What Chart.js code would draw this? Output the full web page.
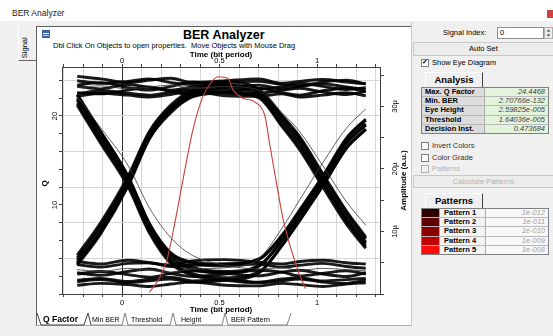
<!DOCTYPE html>
<html>
<head>
<meta charset="utf-8">
<title>BER Analyzer</title>
<script src="https://cdn.jsdelivr.net/npm/chart.js@4.4.1/dist/chart.umd.min.js"></script>
<style>
  body { margin:0; width:553px; height:336px; background:#f0f0f0; overflow:hidden; position:relative;
         font-family:"Liberation Sans", Arial, sans-serif; color:#000; }
  .a { position:absolute; white-space:nowrap; line-height:1; }
  #topbar { left:0; top:0; width:553px; height:21px; background:#fff; }
  #panel { left:36px; top:26px; width:374px; height:298px; background:#fff;
           border-left:1px solid #606060; border-top:1px solid #606060; border-right:1px solid #b0b0b0; border-bottom:1px solid #b0b0b0; }
  #eye { position:absolute; left:37px; top:50px; }
  .ui { font-size:7.5px; }
  .chk { position:absolute; width:6px; height:6px; border:1px solid #808080; background:#fff; }
  .chk.off { background:#f0f0f0; border-color:#b0b0b0; }
  .btn { position:absolute; background:#ececec; border:1px solid #c8c8c8; font-size:7.5px; text-align:center; }
  .tab { position:absolute; font-weight:bold; font-size:9.5px; text-align:center;
         border-left:1px solid #fff; border-top:1px solid #fff; border-right:1px solid #404040; }
  .grid { position:absolute; border:1px solid #808080; background:#fff; }
  .row { display:flex; height:8.2px; border-bottom:1px solid #b8b8b8; font-size:7.5px; line-height:8.2px; }
  .row:last-child { border-bottom:none; }
  .k { width:59px; background:#dcdcdc; font-weight:bold; padding-left:3px; border-right:1px solid #a8a8a8; }
  .v { flex:1; background:#e3f3dc; font-style:italic; text-align:right; padding-right:3px; color:#404040; }
  .sw { width:17px; border-right:1px solid #a8a8a8; }
  .pn { width:41px; background:#f4f4f4; font-weight:bold; padding-left:4px; border-right:1px solid #a8a8a8; }
  .pv { flex:1; background:#f8f8f8; font-style:italic; text-align:right; padding-right:3px; color:#a0a0a0; }
  .bt { font-size:7px; }
</style>
</head>
<body>

<div id="topbar" class="a"></div>
<div class="a" style="left:12px;top:9px;font-size:8.5px;color:#222;">BER Analyzer</div>
<div class="a" style="left:547px;top:10px;width:6px;height:8px;background:#d84040;"></div>

<!-- left vertical tab -->
<div class="a" style="left:18px;top:27px;width:17px;height:33px;border-left:1px solid #fff;border-bottom:1px solid #606060;"></div>
<div class="a" style="left:14px;top:44px;font-size:7.5px;transform:rotate(-90deg);">Signal</div>

<div id="panel" class="a"></div>
<div class="a" style="left:42px;top:30px;width:8px;height:8px;background:#3a62a8;"></div>
<div class="a" style="left:43px;top:33px;width:6px;height:1px;background:#fff;"></div>
<div class="a" style="left:43px;top:35px;width:6px;height:1px;background:#cfd8ea;"></div>

<div class="a" style="left:183px;top:29px;font-size:12.5px;font-weight:bold;">BER Analyzer</div>
<div class="a" style="left:53px;top:42px;font-size:7.5px;">Dbl Click On Objects to open properties.&nbsp; Move Objects with Mouse Drag</div>

<canvas id="eye" width="374" height="266"></canvas>

<!-- bottom tabs -->
<svg class="a" style="left:34px;top:311px;" width="265" height="16">
  <polyline fill="none" stroke="#404040" stroke-width="1" points="3,2 7,14 50,14 54,2 57,14"/>
  <polyline fill="none" stroke="#808080" stroke-width="1" points="57,14 88,14 91,2 94,14 136,14 139,2 142,14 188,14 191,2 194,14 253,14 257,2"/>
</svg>
<div class="a" style="left:43px;top:315px;font-size:8.5px;font-weight:bold;">Q Factor</div>
<div class="a bt" style="left:92px;top:316px;">Min BER</div>
<div class="a bt" style="left:131px;top:316px;">Threshold</div>
<div class="a bt" style="left:181px;top:316px;">Height</div>
<div class="a bt" style="left:231px;top:316px;">BER Pattern</div>

<!-- right panel -->
<div class="a" style="left:411px;top:22px;width:1px;height:304px;background:#c8c8c8;"></div>
<div class="a ui" style="left:443px;top:29px;">Signal Index:</div>
<div class="a" style="left:497px;top:27px;width:45px;height:10px;background:#fff;border:1px solid #909090;"></div>
<div class="a ui" style="left:500px;top:29px;">0</div>
<svg class="a" style="left:544px;top:27px;" width="9" height="12">
  <rect x="0.5" y="0.5" width="8" height="11" fill="#ececec" stroke="#b0b0b0"/>
  <path d="M2.5 4.5 L4.5 2.5 L6.5 4.5 Z M2.5 7.5 L4.5 9.5 L6.5 7.5 Z" fill="#404040"/>
</svg>
<div class="btn" style="left:413px;top:42px;width:139px;height:12px;line-height:12px;">Auto Set</div>

<div class="chk" style="left:421px;top:59px;"></div>
<div class="a" style="left:422px;top:58px;font-size:7px;font-weight:bold;">&#10003;</div>
<div class="a ui" style="left:432px;top:59px;">Show Eye Diagram</div>

<div class="tab" style="left:425px;top:72px;width:56px;height:14px;line-height:14px;">Analysis</div>
<div class="grid" style="left:421px;top:87px;width:126px;">
  <div class="row"><span class="k">Max. Q Factor</span><span class="v">24.4468</span></div>
  <div class="row"><span class="k">Min. BER</span><span class="v">2.70766e-132</span></div>
  <div class="row"><span class="k">Eye Height</span><span class="v">2.59825e-005</span></div>
  <div class="row"><span class="k">Threshold</span><span class="v">1.64036e-005</span></div>
  <div class="row"><span class="k">Decision Inst.</span><span class="v">0.473684</span></div>
</div>

<div class="chk" style="left:421px;top:142px;"></div>
<div class="a ui" style="left:432px;top:142px;color:#333;">Invert Colors</div>
<div class="chk" style="left:421px;top:154px;"></div>
<div class="a ui" style="left:432px;top:154px;color:#333;">Color Grade</div>
<div class="chk off" style="left:421px;top:165px;"></div>
<div class="a ui" style="left:432px;top:165px;color:#b0b0b0;">Patterns</div>
<div class="btn" style="left:413px;top:175px;width:139px;height:11px;line-height:11px;color:#b4b4b4;">Calculate Patterns</div>

<div class="tab" style="left:425px;top:193px;width:56px;height:14px;line-height:14px;">Patterns</div>
<div class="grid" style="left:421px;top:208px;width:126px;">
  <div class="row"><span class="sw" style="background:#2e0000;"></span><span class="pn">Pattern 1</span><span class="pv">1e-012</span></div>
  <div class="row"><span class="sw" style="background:#5c0000;"></span><span class="pn">Pattern 2</span><span class="pv">1e-011</span></div>
  <div class="row"><span class="sw" style="background:#8c0000;"></span><span class="pn">Pattern 3</span><span class="pv">1e-010</span></div>
  <div class="row"><span class="sw" style="background:#c20000;"></span><span class="pn">Pattern 4</span><span class="pv">1e-009</span></div>
  <div class="row"><span class="sw" style="background:#ff0a0a;"></span><span class="pn">Pattern 5</span><span class="pv">1e-008</span></div>
</div>

<script>
// time samples (bit periods) shared by all eye traces
const sampleTimes = [-0.23, -0.11, 0.03, 0.14, 0.25, 0.36, 0.53, 0.70, 0.82, 0.91, 1.03, 1.15, 1.25];

// eye traces, amplitude in micro a.u.
// 111 / 000
const hi1 = [33.4, 33.8, 33.0, 32.6, 33.2, 33.9, 33.5, 32.8, 33.1, 33.7, 33.2, 32.7, 33.0];
const hi2 = [32.2, 32.0, 32.6, 33.1, 32.4, 31.9, 32.3, 32.9, 32.2, 31.8, 32.5, 32.9, 32.4];
const hi3 = [34.8, 34.4, 33.8, 34.2, 34.5, 33.8, 34.1, 34.4, 33.7, 34.0, 34.3, 33.9, 33.6];
const hi4 = [31.6, 32.1, 31.8, 31.5, 31.9, 32.4, 31.7, 31.6, 32.0, 31.5, 31.8, 32.2, 31.7];
const lo1 = [3.4, 3.0, 3.6, 4.0, 3.3, 2.8, 3.2, 3.8, 3.5, 2.9, 3.3, 3.7, 3.2];
const lo2 = [2.2, 2.5, 2.0, 2.4, 2.7, 2.1, 2.3, 1.9, 2.4, 2.6, 2.1, 2.3, 2.5];
const lo3 = [5.2, 4.8, 5.4, 5.0, 4.6, 5.3, 5.5, 5.1, 4.8, 5.2, 5.4, 5.0, 4.8];
const lo4 = [1.4, 1.7, 1.5, 1.2, 1.6, 1.9, 1.4, 1.3, 1.7, 1.5, 1.2, 1.6, 1.8];
// 011
const r1 = [5.4, 10.5, 18.0, 25.4, 29.6, 32.0, 33.0, 33.4, 32.8, 33.2, 33.6, 33.1, 32.7];
const r2 = [4.6, 9.6, 17.2, 24.8, 29.2, 31.6, 32.4, 32.1, 32.6, 32.9, 32.3, 31.9, 32.4];
const r3 = [6.2, 11.4, 18.8, 26.0, 30.2, 32.6, 33.8, 34.0, 33.5, 33.3, 33.9, 34.2, 33.6];
// 010
const rf1 = [5.0, 10.0, 17.6, 25.1, 29.4, 31.8, 32.8, 32.0, 27.5, 24.0, 18.0, 12.0, 8.0];
const rf2 = [5.8, 11.0, 18.4, 25.8, 29.9, 32.3, 33.3, 32.5, 28.3, 24.9, 19.0, 13.0, 8.8];
const rf3 = [4.8, 9.9, 17.4, 24.9, 29.0, 31.5, 32.2, 31.4, 26.8, 23.1, 17.1, 11.2, 7.3];
// 110
const f1 = [33.2, 32.8, 33.5, 33.0, 32.6, 33.1, 33.4, 32.3, 27.9, 24.4, 18.4, 12.4, 8.3];
const f2 = [32.0, 32.5, 32.1, 31.8, 32.3, 32.7, 32.1, 31.6, 27.0, 23.5, 17.6, 11.6, 7.6];
const f3 = [34.1, 33.7, 34.0, 34.4, 33.8, 33.5, 33.9, 32.8, 28.6, 25.2, 19.2, 13.3, 9.1];
// 100
const d1 = [31.0, 25.0, 18.0, 10.5, 5.6, 3.9, 3.3, 2.9, 3.5, 3.8, 3.2, 2.8, 3.4];
const d2 = [31.8, 25.9, 18.8, 11.2, 6.4, 4.9, 4.5, 4.8, 4.3, 4.6, 4.9, 4.4, 4.1];
const d3 = [30.2, 24.1, 17.2, 9.8, 4.9, 3.0, 2.2, 1.8, 2.1, 2.4, 1.9, 1.7, 2.2];
// 101
const dr1 = [31.3, 25.4, 18.3, 10.8, 6.0, 4.3, 3.6, 4.5, 8.6, 12.6, 18.2, 24.2, 27.2];
const dr2 = [30.5, 24.5, 17.6, 10.1, 5.2, 3.3, 2.6, 3.5, 7.7, 11.7, 17.3, 23.3, 26.3];
const dr3 = [31.9, 26.0, 18.9, 11.3, 6.6, 5.1, 4.8, 5.6, 9.4, 13.4, 18.9, 24.9, 28.0];
// 001
const u1 = [3.2, 3.6, 3.1, 2.7, 3.3, 3.7, 3.4, 4.4, 8.5, 12.5, 18.0, 24.0, 27.0];
const u2 = [4.7, 4.3, 4.9, 5.0, 4.4, 4.6, 4.8, 5.5, 9.2, 13.2, 18.7, 24.7, 27.8];
const u3 = [2.0, 2.3, 1.8, 2.1, 2.4, 1.9, 2.2, 3.3, 7.8, 11.8, 17.3, 23.3, 26.4];
// odd slow / fast edges
const out1 = [31.6, 26.6, 20.6, 13.8, 9.0, 6.2, 4.6, 4.0, 4.2, 3.8, 4.1, 3.9, 3.7];
const out2 = [33.0, 33.3, 32.8, 33.1, 33.4, 32.9, 33.2, 32.6, 29.0, 26.0, 20.5, 14.8, 11.0];
const out3 = [3.9, 3.6, 4.1, 3.8, 3.5, 4.0, 4.2, 5.6, 10.5, 15.0, 21.0, 26.5, 29.6];

// Q factor vs decision time
const qTimes  = [0.14, 0.19, 0.231, 0.27, 0.313, 0.364, 0.415, 0.462, 0.492, 0.544, 0.57, 0.62, 0.67, 0.708, 0.733, 0.759, 0.795, 0.826, 0.862, 0.90, 0.94];
const qValues = [0.2, 1.7, 3.9, 7.9, 12.9, 18.5, 22.2, 23.9, 24.4, 24.2, 22.9, 22.0, 21.7, 21.1, 20.0, 16.6, 12.1, 8.4, 5.4, 2.8, 0.6];

// axis ticks
const timeTicks = [-0.3, -0.2, -0.1, 0, 0.1, 0.2, 0.3, 0.4, 0.5, 0.6, 0.7, 0.8, 0.9, 1, 1.1, 1.2, 1.3];
const timeLabels = [0, 0.5, 1];
const qTicks = [0, 2, 4, 6, 8, 10, 12, 14, 16, 18, 20, 22, 24];
const qLabels = [10, 20];
const ampTicks = [0, 5, 10, 15, 20, 25, 30, 35];
const ampLabels = [10, 20, 30];

const eyeTraces = [hi1, hi2, hi3, hi4, lo1, lo2, lo3, lo4, r1, r2, r3, rf1, rf2, rf3,
                   f1, f2, f3, d1, d2, d3, dr1, dr2, dr3, u1, u2, u3];
const oddTraces = [out1, out2, out3];

const FONT = '"Liberation Sans", Arial, sans-serif';
const AXIS = '#404040';

const datasets = [];
datasets.push({
    data: qTimes.map((t, i) => ({ x: t, y: qValues[i] })),
    xAxisID: 'x', yAxisID: 'q',
    borderColor: '#c8403c', borderWidth: 1.1
});
oddTraces.forEach(v => datasets.push({
    data: sampleTimes.map((t, i) => ({ x: t, y: v[i] })),
    xAxisID: 'x', yAxisID: 'amp',
    borderColor: 'rgba(60,60,60,0.9)', borderWidth: 0.9
}));
eyeTraces.forEach(v => datasets.push({
    data: sampleTimes.map((t, i) => ({ x: t, y: v[i] })),
    xAxisID: 'x', yAxisID: 'amp',
    borderColor: 'rgba(0,0,0,0.9)', borderWidth: 2.9
}));

// rotated labels for the two vertical axes
const yLabelPlugin = {
    id: 'yLabels',
    afterDraw(chart) {
        const c = chart.ctx;
        const q = chart.scales.q, amp = chart.scales.amp;
        const rot = (txt, x, y) => {
            c.save();
            c.translate(x, y);
            c.rotate(-Math.PI / 2);
            c.fillText(txt, 0, 0);
            c.restore();
        };
        c.save();
        c.fillStyle = '#000';
        c.textAlign = 'center';
        c.textBaseline = 'middle';
        c.font = '7.5px ' + FONT;
        qLabels.forEach(v => rot(String(v), 18, q.getPixelForValue(v)));
        ampLabels.forEach(v => rot(v + '\u00b5', amp.left + 15, amp.getPixelForValue(v)));
        c.font = 'bold 8px ' + FONT;
        rot('Q', 8, (chart.chartArea.top + chart.chartArea.bottom) / 2 + 3);
        rot('Amplitude (a.u.)', amp.left + 24, (chart.chartArea.top + chart.chartArea.bottom) / 2);
        c.restore();
    }
};

const timeAxis = (pos, h, onArea, tickPad, titlePad) => ({
    type: 'linear', position: pos, min: -0.308, max: 1.323,
    afterBuildTicks: s => { s.ticks = timeTicks.map(v => ({ value: v })); },
    afterFit: s => { s.height = h; },
    ticks: {
        autoSkip: false, maxRotation: 0, padding: tickPad, color: '#000',
        font: { family: FONT, size: 7.5 },
        callback: v => timeLabels.includes(Math.round(v * 10) / 10) ? String(Math.round(v * 10) / 10) : ''
    },
    grid: {
        drawOnChartArea: onArea, tickLength: 3, tickColor: AXIS, lineWidth: 1,
        color: c => (c.tick && c.tick.value === 0) ? '#303030' : '#d6d6d6'
    },
    border: { display: true, color: AXIS },
    title: { display: true, text: 'Time (bit period)', color: '#000', padding: titlePad,
             font: { family: FONT, size: 8, weight: 'bold' } }
});

new Chart(document.getElementById('eye').getContext('2d'), {
    type: 'line',
    data: { datasets: datasets },
    options: {
        responsive: false,
        animation: false,
        events: [],
        layout: { padding: 0 },
        elements: {
            line: { cubicInterpolationMode: 'monotone', fill: false },
            point: { radius: 0 }
        },
        plugins: { legend: { display: false }, tooltip: { enabled: false } },
        scales: {
            x: timeAxis('bottom', 22, true, 1, { top: 0, bottom: 1 }),
            x2: timeAxis('top', 17, false, -1, { top: 0, bottom: 0 }),
            q: {
                type: 'linear', position: 'left', min: 0, max: 25.5,
                afterBuildTicks: s => { s.ticks = qTicks.map(v => ({ value: v })); },
                afterFit: s => { s.width = 25; },
                ticks: { display: false },
                grid: { tickLength: 3, tickColor: AXIS,
                        color: c => (c.tick && c.tick.value % 4 === 0) ? '#d6d6d6' : 'rgba(0,0,0,0)' },
                border: { display: true, color: AXIS }
            },
            amp: {
                type: 'linear', position: 'right', min: 0, max: 36.3,
                afterBuildTicks: s => { s.ticks = ampTicks.map(v => ({ value: v })); },
                afterFit: s => { s.width = 31; },
                ticks: { display: false },
                grid: { drawOnChartArea: false, tickLength: 4, tickColor: AXIS },
                border: { display: true, color: AXIS }
            }
        }
    },
    plugins: [yLabelPlugin]
});
</script>
</body>
</html>
